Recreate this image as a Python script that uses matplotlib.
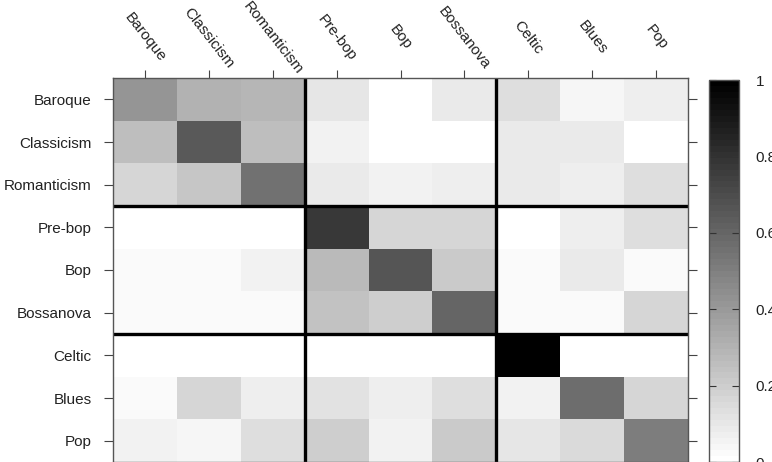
import numpy as np
import matplotlib
matplotlib.use("Agg")
import matplotlib.pyplot as plt

plt.rcParams['font.family'] = ['Liberation Sans', 'DejaVu Sans']

genres = ['Baroque', 'Classicism', 'Romanticism', 'Pre-bop', 'Bop',
          'Bossanova', 'Celtic', 'Blues', 'Pop']

# rows = true genre, cols = predicted genre
baroque     = [0.41, 0.30, 0.29, 0.10, 0.00, 0.08, 0.14, 0.04, 0.07]
classicism  = [0.25, 0.65, 0.25, 0.05, 0.00, 0.00, 0.09, 0.08, 0.00]
romanticism = [0.16, 0.23, 0.55, 0.08, 0.05, 0.07, 0.09, 0.07, 0.13]
prebop      = [0.00, 0.00, 0.01, 0.78, 0.17, 0.17, 0.00, 0.07, 0.13]
bop         = [0.02, 0.02, 0.06, 0.28, 0.66, 0.21, 0.02, 0.09, 0.03]
bossanova   = [0.02, 0.02, 0.02, 0.24, 0.20, 0.60, 0.03, 0.03, 0.17]
celtic      = [0.00, 0.00, 0.00, 0.00, 0.00, 0.00, 1.00, 0.00, 0.00]
blues       = [0.02, 0.16, 0.07, 0.12, 0.07, 0.14, 0.05, 0.57, 0.17]
pop         = [0.06, 0.04, 0.13, 0.20, 0.06, 0.21, 0.10, 0.15, 0.51]

group_bounds = [3, 6]
cbar_ticks = [0, 0.2, 0.4, 0.6, 0.8, 1]

mat = np.array([baroque, classicism, romanticism, prebop, bop,
                bossanova, celtic, blues, pop])

W, H = 772, 462
fig = plt.figure(figsize=(W / 100, H / 100), dpi=100)
ax = fig.add_axes([113 / W, 0, 575 / W, 384 / H])
cax = fig.add_axes([709 / W, 0, 30 / W, 382 / H])

cmap = plt.get_cmap('gray_r', 64)
im = ax.imshow(mat, cmap=cmap, vmin=0, vmax=1, aspect='auto',
               interpolation='nearest')

# thick separators between the three groups
for b in group_bounds:
    ax.axhline(b - 0.5, color='black', lw=2.4)
    ax.axvline(b - 0.5, color='black', lw=2.4)

n = len(genres)
ax.set_xticks(range(n))
ax.set_yticks(range(n))
ax.xaxis.tick_top()
ax.set_xticklabels(genres, rotation=-52, ha='center', va='center',
                   rotation_mode='anchor')
ax.set_yticklabels(genres)
ax.tick_params(axis='x', top=True, bottom=False, length=6, width=0.8,
               color='#444444', pad=23, labelsize=11, labelcolor='#222222')
ax.tick_params(axis='y', left=True, right=True, length=6.5, width=0.8,
               color='#444444', pad=9, labelsize=11, labelcolor='#222222')
for s in ax.spines.values():
    s.set_color('#555555')
    s.set_linewidth(1.0)

cb = fig.colorbar(im, cax=cax, ticks=cbar_ticks)
cb.ax.set_yticklabels(['0', '0.2', '0.4', '0.6', '0.8', '1'])
cb.ax.tick_params(direction='in', left=True, right=True, length=5,
                  width=0.8, color='#333333', pad=12, labelsize=11,
                  labelcolor='#222222')
cb.outline.set_edgecolor('#555555')
cb.outline.set_linewidth(1.0)

fig.savefig('out.png', dpi=100)
